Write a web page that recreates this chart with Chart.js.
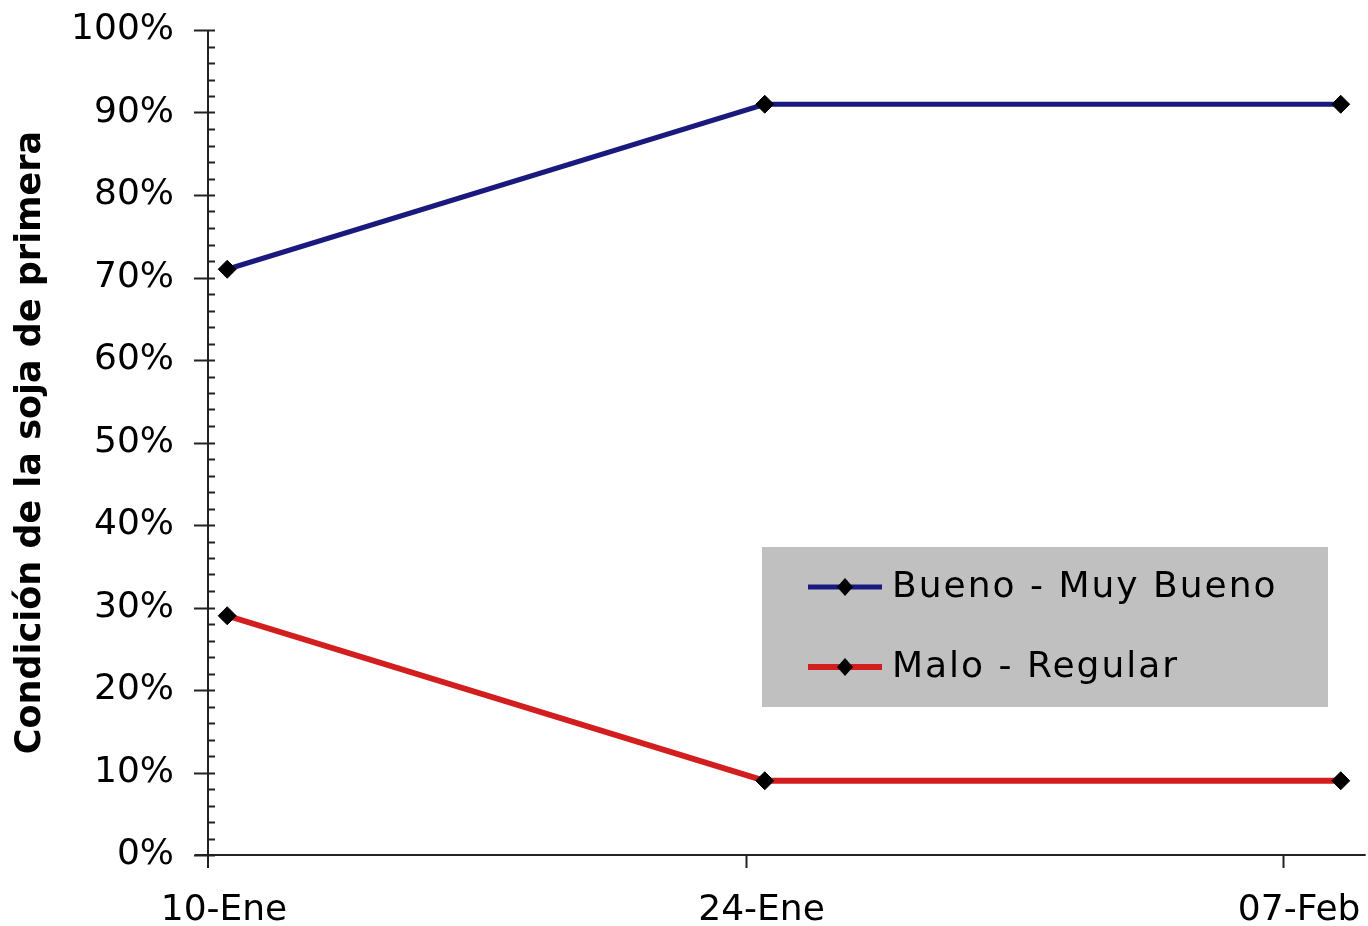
<!DOCTYPE html>
<html>
<head>
<meta charset="utf-8">
<script src="https://cdn.jsdelivr.net/npm/chart.js@4/dist/chart.umd.min.js"></script>
<style>
  html, body { margin: 0; padding: 0; background: #fff; }
  #wrap { width: 1368px; height: 926px; }
</style>
</head>
<body>
<div id="wrap"><canvas id="grafico" width="1368" height="926"></canvas></div>
<script>
// dias desde el 10-Ene (Excel pone el punto al medio del dia)
var dias = [0.5, 14.5, 29.5];
var fechas = ["10-Ene", "24-Ene", "08-Feb"];
var buenoMuyBueno = [71, 91, 91];
var maloRegular = [29, 9, 9];

// marcas del eje x
var marcasDias = [0, 14, 28];
var marcasTexto = ["10-Ene", "24-Ene", "07-Feb"];
var finEje = 30.15;

var fuente = "'DejaVu Sans', Verdana, sans-serif";

function puntos(valores) {
    var out = [];
    for (var i = 0; i < dias.length; i++) {
        out.push({ x: dias[i], y: valores[i] });
    }
    return out;
}

// ejes, marcas menores y etiquetas de fecha dibujadas a mano (como en Excel)
var ejesPlugin = {
    id: "ejes",
    beforeDatasetsDraw: function(chart) {
        var ctx = chart.ctx;
        var a = chart.chartArea;
        var ys = chart.scales.y;
        var xs = chart.scales.x;
        ctx.save();
        ctx.strokeStyle = "#222";
        ctx.lineWidth = 2;
        ctx.beginPath();
        ctx.moveTo(a.left - 13, a.bottom);
        ctx.lineTo(xs.getPixelForValue(finEje), a.bottom);
        ctx.moveTo(a.left, a.top);
        ctx.lineTo(a.left, a.bottom + 13);
        for (var v = 0; v <= 100; v += 2) {
            var py = Math.round(ys.getPixelForValue(v)) + 0.5;
            if (v % 10 === 0) {
                ctx.moveTo(a.left - 14, py);
                ctx.lineTo(a.left + 7, py);
            } else {
                ctx.moveTo(a.left, py);
                ctx.lineTo(a.left + 7, py);
            }
        }
        for (var i = 1; i < marcasDias.length; i++) {
            var px = Math.round(xs.getPixelForValue(marcasDias[i])) + 0.5;
            ctx.moveTo(px, a.bottom);
            ctx.lineTo(px, a.bottom + 13);
        }
        ctx.stroke();

        ctx.fillStyle = "#000";
        ctx.font = "36px " + fuente;
        ctx.textAlign = "center";
        ctx.textBaseline = "middle";
        for (var j = 0; j < marcasDias.length; j++) {
            var lx = xs.getPixelForValue(marcasDias[j]) + 16;
            ctx.fillText(marcasTexto[j], lx, a.bottom + 56);
        }
        ctx.restore();
    }
};

// leyenda con fondo gris
var leyendaPlugin = {
    id: "leyendaGris",
    afterDraw: function(chart) {
        var ctx = chart.ctx;
        var a = chart.chartArea;
        var bx = a.left + 554, by = a.top + 517, bw = 566, bh = 160;
        ctx.save();
        ctx.fillStyle = "#c0c0c0";
        ctx.fillRect(bx, by, bw, bh);
        var sets = chart.data.datasets;
        for (var i = 0; i < sets.length; i++) {
            var cy = by + 40 + i * 80;
            ctx.strokeStyle = sets[i].borderColor;
            ctx.lineWidth = sets[i].borderWidth;
            ctx.beginPath();
            ctx.moveTo(bx + 46, cy);
            ctx.lineTo(bx + 120, cy);
            ctx.stroke();
            ctx.fillStyle = "#000";
            ctx.beginPath();
            ctx.moveTo(bx + 83, cy - 9);
            ctx.lineTo(bx + 91, cy);
            ctx.lineTo(bx + 83, cy + 9);
            ctx.lineTo(bx + 75, cy);
            ctx.closePath();
            ctx.fill();
            ctx.font = "36px " + fuente;
            ctx.letterSpacing = "2px";
            ctx.textBaseline = "middle";
            ctx.textAlign = "left";
            ctx.fillText(sets[i].label, bx + 130, cy + 1);
        }
        ctx.restore();
    }
};

var ctx = document.getElementById("grafico").getContext("2d");
var chart = new Chart(ctx, {
    type: "line",
    data: {
        datasets: [{
            label: "Bueno - Muy Bueno",
            data: puntos(buenoMuyBueno),
            borderColor: "#1a1a7e",
            borderWidth: 5,
            pointStyle: "rectRot",
            pointRadius: 9,
            pointBackgroundColor: "#000",
            pointBorderColor: "#000",
            pointBorderWidth: 1
        }, {
            label: "Malo - Regular",
            data: puntos(maloRegular),
            borderColor: "#d21e1e",
            borderWidth: 6,
            pointStyle: "rectRot",
            pointRadius: 9,
            pointBackgroundColor: "#000",
            pointBorderColor: "#000",
            pointBorderWidth: 1
        }]
    },
    options: {
        responsive: false,
        animation: false,
        layout: { padding: { top: 30, right: 3, left: 0, bottom: 0 } },
        plugins: {
            legend: { display: false },
            tooltip: { enabled: false }
        },
        scales: {
            x: {
                type: "linear",
                min: 0,
                max: 29.95,
                grid: { display: false, drawTicks: false },
                border: { display: false },
                afterBuildTicks: function(scale) {
                    scale.ticks = marcasDias.map(function(v) { return { value: v }; });
                },
                afterFit: function(scale) {
                    scale.height = 71;
                    scale.paddingLeft = 0;
                    scale.paddingRight = 0;
                },
                ticks: { display: false }
            },
            y: {
                min: 0,
                max: 100,
                grid: { display: false, drawTicks: false },
                border: { display: false },
                afterFit: function(scale) {
                    scale.width = 208;
                    scale.paddingTop = 0;
                    scale.paddingBottom = 0;
                },
                title: {
                    display: true,
                    text: "Condición de la soja de primera",
                    color: "#000",
                    font: { family: fuente, size: 35, weight: "bold" },
                    padding: { top: 10, bottom: 0 }
                },
                ticks: {
                    stepSize: 10,
                    color: "#000",
                    font: { family: fuente, size: 36 },
                    padding: 34,
                    callback: function(v) { return v + "%"; }
                }
            }
        }
    },
    plugins: [ejesPlugin, leyendaPlugin]
});
</script>
</body>
</html>
